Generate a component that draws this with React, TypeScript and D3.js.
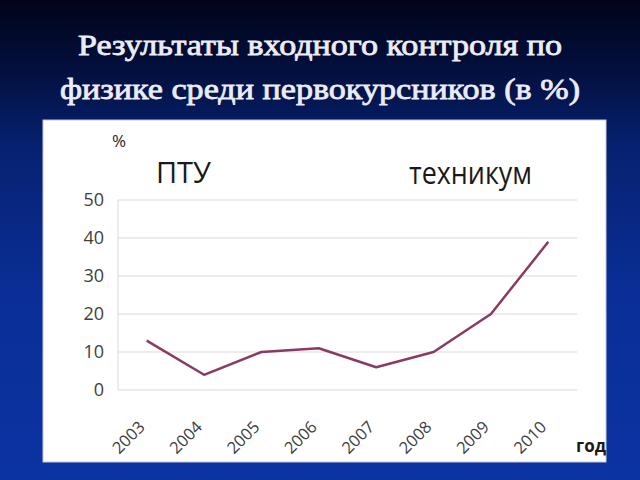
import React from "react";
import * as d3 from "d3";

const years = ["2003", "2004", "2005", "2006", "2007", "2008", "2009", "2010"];
const values = [13, 4, 10, 11, 6, 10, 20, 39];
const yTicks = [0, 10, 20, 30, 40, 50];
const titleLines = ["Результаты входного контроля по", "физике среди первокурсников (в %)"];

export default function App() {
  const W = 640, H = 480;
  const x = d3.scaleBand<string>().domain(years).range([118, 577]);
  const y = d3.scaleLinear().domain([0, 50]).range([390, 200]);
  const line = d3
    .line<number>()
    .x((_, i) => (x(years[i]) as number) + x.bandwidth() / 2)
    .y((d) => y(d));
  const font = "'Open Sans', 'DejaVu Sans', sans-serif";
  const titleLens = [484, 520];
  return (
    <svg width={W} height={H} style={{ position: "fixed", left: 0, top: 0 }}>
      <defs>
        <linearGradient id="bg" x1="0" y1="0" x2="0" y2="1">
          <stop offset="0" stopColor="#010418" />
          <stop offset="0.15" stopColor="#03103f" />
          <stop offset="0.3" stopColor="#062170" />
          <stop offset="0.6" stopColor="#0a2e96" />
          <stop offset="1" stopColor="#0b33a2" />
        </linearGradient>
      </defs>
      <rect x={0} y={0} width={W} height={H} fill="url(#bg)" />
      {titleLines.map((t, i) => (
        <text
          key={i}
          x={320 - titleLens[i] / 2}
          y={55 + i * 44}
          textLength={titleLens[i]}
          lengthAdjust="spacingAndGlyphs"
          fill="#ececf4"
          stroke="#ececf4"
          strokeWidth={0.8}
          fontFamily="'Liberation Serif', 'DejaVu Serif', serif"
          fontSize={30}
        >
          {t}
        </text>
      ))}
      <rect x={43} y={120} width={563} height={342} fill="#ffffff" stroke="#c8c8d8" strokeWidth={1} />
      {yTicks.map((t) => (
        <g key={t}>
          <line x1={118} x2={577} y1={y(t)} y2={y(t)} stroke="#d9d9d9" strokeWidth={1} />
          <text x={104} y={y(t) + 6} textAnchor="end" fontFamily={font} fontSize={18} fill="#404040">
            {t}
          </text>
        </g>
      ))}
      <line x1={118} x2={118} y1={200} y2={390} stroke="#d9d9d9" strokeWidth={1} />
      {years.map((yr) => {
        const cx = (x(yr) as number) + x.bandwidth() / 2;
        return (
          <text
            key={yr}
            transform={`translate(${cx - 9},${420}) rotate(-45)`}
            textAnchor="end"
            dy="0.7em"
            fontFamily={font}
            fontSize={16.5}
            fill="#404040"
          >
            {yr}
          </text>
        );
      })}
      <path d={line(values) || ""} fill="none" stroke="#8b3a62" strokeWidth={2.5} strokeLinejoin="round" />
      <text x={112} y={147} fontFamily={font} fontSize={17} fill="#262626">%</text>
      <text x={156} y={183} textLength={55} lengthAdjust="spacingAndGlyphs" fontFamily={font} fontSize={30} fill="#1a1a1a">ПТУ</text>
      <text x={409} y={184} textLength={123} lengthAdjust="spacingAndGlyphs" fontFamily={font} fontSize={31} fill="#1a1a1a">техникум</text>
      <text x={576} y={452} fontFamily={font} fontSize={17} fontWeight="bold" fill="#1a1a1a">год</text>
    </svg>
  );
}
